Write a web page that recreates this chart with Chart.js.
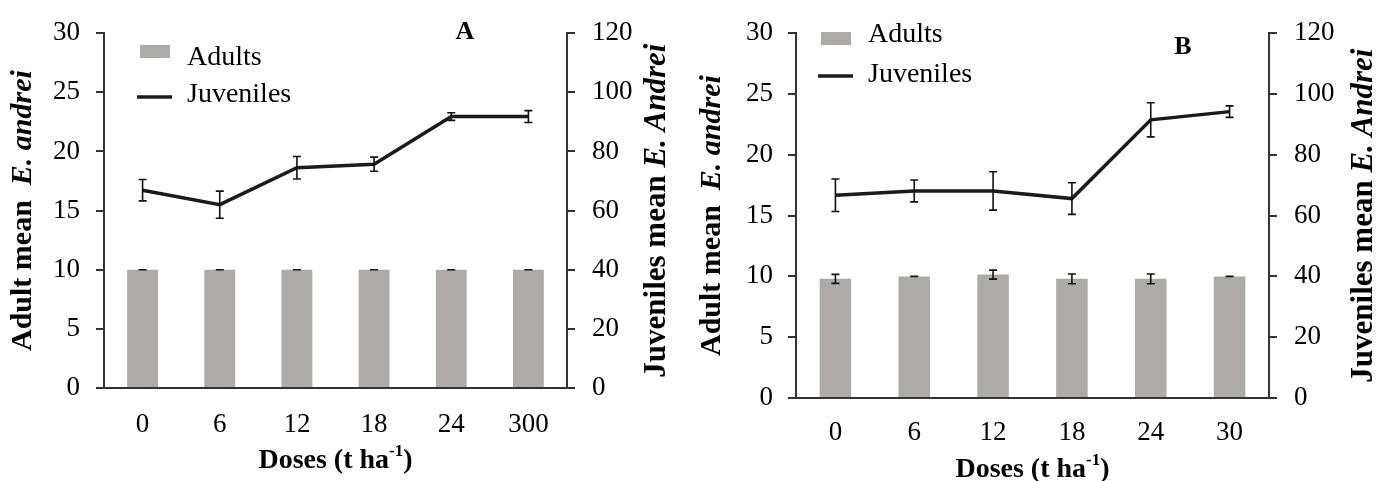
<!DOCTYPE html>
<html>
<head>
<meta charset="utf-8">
<script src="https://cdn.jsdelivr.net/npm/chart.js@4.4.0/dist/chart.umd.min.js"></script>
<style>
  body { margin: 0; background: #fff; }
  #wrap { position: relative; width: 1390px; height: 481px; }
  canvas { position: absolute; top: 0; }
</style>
</head>
<body>
<div id="wrap">
  <canvas id="chartA" width="690" height="481" style="left:0"></canvas>
  <canvas id="chartB" width="700" height="481" style="left:690px"></canvas>
</div>
<script>
// Panel A data
const dosesA = ['0', '6', '12', '18', '24', '300'];
const adultsA = [10, 10, 10, 10, 10, 10];
const adultsErrA = [0, 0, 0, 0, 0, 0];
const juvenilesA = [66.9, 62, 74.5, 75.7, 91.8, 91.8];
const juvenilesErrA = [3.6, 4.6, 3.8, 2.4, 1.3, 2];

// Panel B data
const dosesB = ['0', '6', '12', '18', '24', '30'];
const adultsB = [9.8, 10, 10.15, 9.8, 9.8, 10];
const adultsErrB = [0.37, 0, 0.37, 0.4, 0.4, 0];
const juvenilesB = [66.7, 68.1, 68.1, 65.6, 91.5, 94.2];
const juvenilesErrB = [5.35, 3.6, 6.3, 5.2, 5.6, 1.9];

// axis ticks
const leftTicks = [0, 5, 10, 15, 20, 25, 30];
const rightTicks = [0, 20, 40, 60, 80, 100, 120];

const SERIF = '"Liberation Serif", "Times New Roman", serif';
const AXIS_COLOR = '#333';
const BAR_COLOR = '#aeaaaa';
const LINE_COLOR = '#1b1b1b';

// draw text made of several font runs, centred on (x, y)
function drawRich(ctx, parts, x, y, angle) {
  ctx.save();
  ctx.translate(x, y);
  if (angle) ctx.rotate(angle);
  ctx.textBaseline = 'middle';
  ctx.textAlign = 'left';
  let total = 0;
  parts.forEach(p => { ctx.font = p.font; total += ctx.measureText(p.text).width; });
  let cx = -total / 2;
  parts.forEach(p => {
    ctx.font = p.font;
    ctx.fillStyle = '#000';
    ctx.fillText(p.text, cx, p.dy || 0);
    cx += ctx.measureText(p.text).width;
  });
  ctx.restore();
}

// error bars for every dataset that carries an errors array
const errorBars = {
  id: 'errorBars',
  afterDatasetsDraw(chart) {
    const ctx = chart.ctx;
    chart.data.datasets.forEach((ds, i) => {
      if (!ds.errors) return;
      const meta = chart.getDatasetMeta(i);
      const scale = chart.scales[ds.yAxisID];
      ctx.save();
      ctx.strokeStyle = '#111';
      ctx.lineWidth = 1.6;
      meta.data.forEach((el, j) => {
        const v = ds.data[j], e = ds.errors[j];
        const x = el.x;
        const yTop = scale.getPixelForValue(v + e);
        const yBot = scale.getPixelForValue(v - e);
        ctx.beginPath();
        ctx.moveTo(x, yTop); ctx.lineTo(x, yBot);
        ctx.moveTo(x - 4, yTop); ctx.lineTo(x + 4, yTop);
        ctx.moveTo(x - 4, yBot); ctx.lineTo(x + 4, yBot);
        ctx.stroke();
      });
      ctx.restore();
    });
  }
};

// legend, panel letter and axis titles
const decorations = {
  id: 'decorations',
  afterDraw(chart) {
    const o = chart.options.plugins.decorations;
    const ctx = chart.ctx;
    const a = chart.chartArea;
    const midY = (a.top + a.bottom) / 2;

    // legend
    ctx.save();
    ctx.fillStyle = BAR_COLOR;
    ctx.fillRect(o.legendX + 3, o.legendY1 - 6, 30, 13);
    ctx.strokeStyle = LINE_COLOR;
    ctx.lineWidth = 3.5;
    ctx.beginPath();
    ctx.moveTo(o.legendX, o.legendY2);
    ctx.lineTo(o.legendX + 35, o.legendY2);
    ctx.stroke();
    ctx.fillStyle = '#000';
    ctx.font = '28px ' + SERIF;
    ctx.textBaseline = 'middle';
    ctx.fillText('Adults', o.legendX + 50, o.textY1);
    ctx.fillText('Juveniles', o.legendX + 50, o.textY2);
    ctx.font = 'bold 26px ' + SERIF;
    ctx.textAlign = 'center';
    ctx.fillText(o.letter, o.letterX, o.letterY);
    ctx.restore();

    drawRich(ctx, [
      { text: 'Adult mean  ', font: 'bold 30px ' + SERIF },
      { text: 'E. andrei', font: 'italic bold 30px ' + SERIF }
    ], o.leftTitleX, midY, -Math.PI / 2);
    drawRich(ctx, [
      { text: 'Juveniles mean ', font: 'bold 31px ' + SERIF },
      { text: 'E. Andrei', font: 'italic bold 31px ' + SERIF }
    ], o.rightTitleX, midY, -Math.PI / 2);
    drawRich(ctx, [
      { text: 'Doses (t ha', font: 'bold 28px ' + SERIF },
      { text: '-1', font: 'bold 17px ' + SERIF, dy: -9 },
      { text: ')', font: 'bold 28px ' + SERIF }
    ], (a.left + a.right) / 2, o.xTitleY);
  }
};

function makeChart(id, doses, adults, adultsErr, juv, juvErr, g) {
  return new Chart(document.getElementById(id), {
    type: 'bar',
    data: {
      labels: doses,
      datasets: [
        {
          type: 'line', label: 'Juveniles', data: juv, errors: juvErr,
          yAxisID: 'y1', borderColor: LINE_COLOR, borderWidth: 3.5,
          pointRadius: 0, tension: 0, order: 0
        },
        {
          label: 'Adults', data: adults, errors: adultsErr, yAxisID: 'y',
          backgroundColor: BAR_COLOR, barPercentage: 0.4, categoryPercentage: 1,
          order: 1
        }
      ]
    },
    options: {
      responsive: false,
      animation: false,
      devicePixelRatio: 1,
      layout: { padding: { top: g.top, left: 0, right: 0, bottom: 0 } },
      plugins: {
        legend: { display: false },
        tooltip: { enabled: false },
        decorations: g.deco
      },
      scales: {
        x: {
          grid: { display: false, drawTicks: false },
          border: { color: AXIS_COLOR, width: 2 },
          ticks: { color: '#000', font: { family: SERIF, size: 27 }, padding: g.xPad },
          afterFit: s => { s.height = g.xHeight; }
        },
        y: {
          position: 'left', min: 0, max: 30,
          afterBuildTicks: s => { s.ticks = leftTicks.map(v => ({ value: v })); },
          grid: { drawOnChartArea: false, tickLength: 8, color: AXIS_COLOR, lineWidth: 2 },
          border: { color: AXIS_COLOR, width: 2 },
          ticks: { color: '#000', font: { family: SERIF, size: 27 }, padding: g.leftPad },
          afterFit: s => { s.width = g.leftWidth; }
        },
        y1: {
          position: 'right', min: 0, max: 120,
          afterBuildTicks: s => { s.ticks = rightTicks.map(v => ({ value: v })); },
          grid: { drawOnChartArea: false, tickLength: 8, color: AXIS_COLOR, lineWidth: 2 },
          border: { color: AXIS_COLOR, width: 2 },
          ticks: { color: '#000', font: { family: SERIF, size: 27 }, padding: 17 },
          afterFit: s => { s.width = g.rightWidth; }
        }
      }
    },
    plugins: [errorBars, decorations]
  });
}

makeChart('chartA', dosesA, adultsA, adultsErrA, juvenilesA, juvenilesErrA, {
  top: 22, xHeight: 93, leftWidth: 104, rightWidth: 123, xPad: 21, leftPad: 16,
  deco: { legendX: 137, legendY1: 51, legendY2: 97, textY1: 58, textY2: 95,
          letter: 'A', letterX: 465, letterY: 32,
          leftTitleX: 23, rightTitleX: 657, xTitleY: 461 }
});

makeChart('chartB', dosesB, adultsB, adultsErrB, juvenilesB, juvenilesErrB, {
  top: 24, xHeight: 83, leftWidth: 106, rightWidth: 121, xPad: 19, leftPad: 15,
  deco: { legendX: 128, legendY1: 38, legendY2: 76, textY1: 35, textY2: 75,
          letter: 'B', letterX: 493, letterY: 47,
          leftTitleX: 22, rightTitleX: 674, xTitleY: 470 }
});
</script>
</body>
</html>
